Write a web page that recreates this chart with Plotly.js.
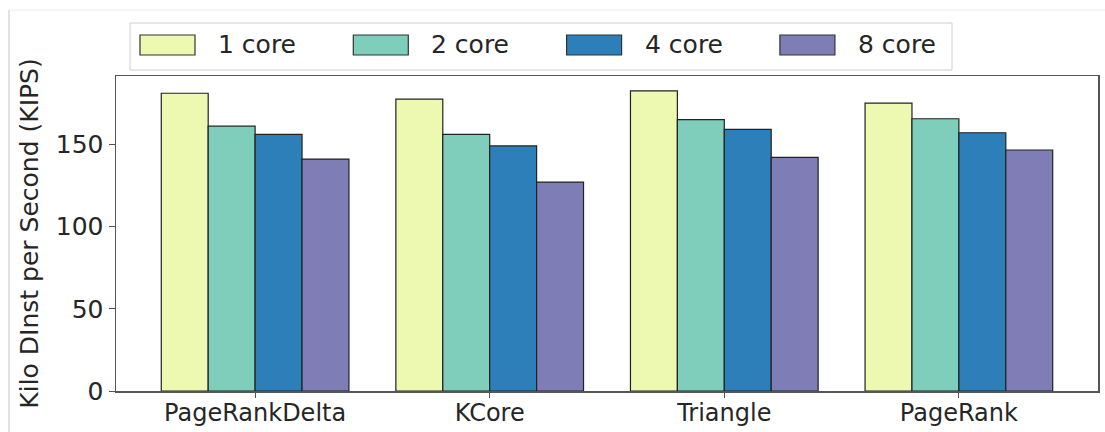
<!DOCTYPE html>
<html><head><meta charset="utf-8">
<script src="https://cdn.plot.ly/plotly-3.0.1.min.js"></script>
<style>body{margin:0;background:#fff}#chart{width:1105px;height:432px}</style>
</head><body><div id="chart"></div>
<script>
const categories = ["PageRankDelta", "KCore", "Triangle", "PageRank"];
const seriesNames = ["1 core", "2 core", "4 core", "8 core"];
const core1 = [181, 177.5, 182.5, 175];
const core2 = [161, 156, 165, 165.5];
const core4 = [156, 149, 159, 157];
const core8 = [141, 127, 142, 146.5];
const yTicks = [0, 50, 100, 150];
const colors = ["#edf8b1", "#7fcdbb", "#2c7fb8", "#7e7db6"];
const values = [core1, core2, core4, core8];

const W = 1105, H = 432;
const M = {l: 116, r: 7, t: 76, b: 41};
const pw = W - M.l - M.r, ph = H - M.t - M.b;
const px2x = p => (p - M.l) / pw;
const py2y = p => (H - M.b - p) / ph;

const traces = values.map((v, i) => ({
  type: "bar",
  name: seriesNames[i],
  x: categories,
  y: v,
  marker: {color: colors[i], line: {color: "#222", width: 1.2}},
  hoverinfo: "skip",
  showlegend: false
}));

// custom legend (large swatches, like the original)
const shapes = [];
const annotations = [];
shapes.push({type: "rect", xref: "paper", yref: "paper",
  x0: px2x(130), x1: px2x(952), y0: py2y(70), y1: py2y(23),
  line: {color: "#d0d0d0", width: 1}, fillcolor: "#fff", layer: "above"});
seriesNames.forEach((n, i) => {
  const sx = 140 + i * 213.3;
  shapes.push({type: "rect", xref: "paper", yref: "paper",
    x0: px2x(sx), x1: px2x(sx + 55), y0: py2y(55), y1: py2y(35),
    line: {color: "#333", width: 1.2}, fillcolor: colors[i], layer: "above"});
  annotations.push({xref: "paper", yref: "paper", x: px2x(sx + 76), y: py2y(45),
    xanchor: "left", yanchor: "middle", showarrow: false, text: n,
    font: {size: 25, family: "DejaVu Sans", color: "#262626"}});
});
// faint outer frame (top and left edges visible in the original)
shapes.push({type: "line", xref: "paper", yref: "paper",
  x0: px2x(9), x1: px2x(1105), y0: py2y(10), y1: py2y(10),
  line: {color: "#ececec", width: 1}});
shapes.push({type: "line", xref: "paper", yref: "paper",
  x0: px2x(9), x1: px2x(9), y0: py2y(10), y1: py2y(432),
  line: {color: "#d8d8d8", width: 1.5}});

const layout = {
  width: W, height: H,
  margin: M,
  paper_bgcolor: "#fff", plot_bgcolor: "#fff",
  font: {family: "DejaVu Sans", color: "#262626", size: 25},
  barmode: "group", bargap: 0.2, bargroupgap: 0,
  showlegend: false,
  shapes: shapes,
  annotations: annotations,
  xaxis: {
    type: "category", range: [-0.593, 3.593],
    showline: true, mirror: true, linecolor: "#555", linewidth: 1.5,
    ticks: "outside", ticklen: 5, tickcolor: "#555",
    tickfont: {size: 24}, ticklabelstandoff: -5,
    showgrid: false, zeroline: false
  },
  yaxis: {
    range: [0, 191.5], tickvals: yTicks,
    showline: true, mirror: true, linecolor: "#555", linewidth: 1.5,
    ticks: "outside", ticklen: 6, tickcolor: "#555",
    tickfont: {size: 25}, showgrid: false, zeroline: false,
    title: {text: "Kilo DInst per Second (KIPS)", font: {size: 25}, standoff: 10}
  }
};
Plotly.newPlot("chart", traces, layout, {displayModeBar: false, staticPlot: true});
</script></body></html>
